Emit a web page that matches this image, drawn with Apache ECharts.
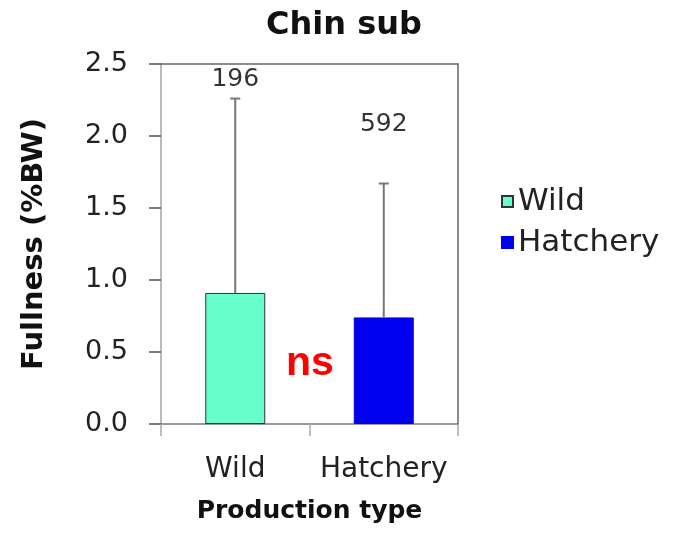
<!DOCTYPE html>
<html>
<head>
<meta charset="utf-8">
<script src="https://cdn.jsdelivr.net/npm/echarts@6/dist/echarts.min.js"></script>
<style>
  html, body { margin: 0; padding: 0; background: #fff; }
  #chart { width: 673px; height: 536px; }
</style>
</head>
<body>
<div id="chart"></div>
<script>
// Chin sub - stomach fullness by production type
const categories = ['Wild', 'Hatchery'];
const meanFullness = [0.91, 0.74];     // bar heights (%BW)
const upperError = [2.26, 1.67];       // top of error whisker
const sampleSizes = ['196', '592'];    // n labels
const sampleLabelY = [2.39, 2.08];     // where the n labels sit
const barColors = ['#66FFCC', '#0000F0'];

const FONT = 'DejaVu Sans';
const chart = echarts.init(document.getElementById('chart'));

// one series per type so the legend gets two entries
const barSeries = categories.map((name, i) => ({
  name,
  type: 'bar',
  barWidth: 60,
  barGap: '-100%',
  data: categories.map((c, j) => (j === i ? meanFullness[j] : '-')),
  itemStyle: {
    color: barColors[i],
    borderColor: i === 0 ? '#333' : barColors[i],
    borderWidth: 1
  },
  z: 2
}));

chart.setOption({
  backgroundColor: '#fff',
  animation: false,
  title: {
    text: 'Chin sub',
    left: 261,
    top: 5,
    textStyle: { fontFamily: FONT, fontSize: 32, fontWeight: 'bold', color: '#111' }
  },
  legend: {
    orient: 'vertical',
    left: 501,
    top: 186,
    padding: 0,
    icon: 'rect',
    itemWidth: 11,
    itemHeight: 11,
    itemGap: 10,
    data: categories,
    textStyle: { fontFamily: FONT, fontSize: 31, color: '#222' }
  },
  grid: { left: 161, right: 215, top: 64, bottom: 112 },
  xAxis: [
    {
      type: 'category',
      data: categories,
      axisLine: { lineStyle: { color: '#777', width: 1.5 } },
      axisTick: { show: true, alignWithLabel: false, length: 12, lineStyle: { color: '#aaa', width: 1.5 } },
      axisLabel: { interval: 0, fontFamily: FONT, fontSize: 28, color: '#222', margin: 32 },
      name: 'Production type',
      nameLocation: 'middle',
      nameGap: 75,
      nameTextStyle: { fontFamily: FONT, fontSize: 25, fontWeight: 'bold', color: '#111' }
    },
    {
      type: 'category',
      position: 'top',
      data: categories,
      axisLine: { show: true, onZero: false, lineStyle: { color: '#666', width: 1.5 } },
      axisTick: { show: false },
      axisLabel: { show: false }
    }
  ],
  yAxis: [
    {
      type: 'value',
      min: 0,
      max: 2.5,
      interval: 0.5,
      axisLine: { show: true, lineStyle: { color: '#bbb', width: 2 } },
      axisTick: { show: true, length: 12, lineStyle: { color: '#555', width: 1.5 } },
      axisLabel: {
        fontFamily: FONT, fontSize: 27, color: '#222', margin: 33,
        formatter: v => v.toFixed(1)
      },
      splitLine: { show: false },
      name: 'Fullness (%BW)',
      nameLocation: 'middle',
      nameGap: 112,
      nameTextStyle: { fontFamily: FONT, fontSize: 29, fontWeight: 'bold', color: '#111' }
    },
    {
      type: 'value',
      position: 'right',
      min: 0,
      max: 2.5,
      interval: 0.5,
      axisLine: { show: true, onZero: false, lineStyle: { color: '#666', width: 1.5 } },
      axisTick: { show: false },
      axisLabel: { show: false },
      splitLine: { show: false }
    }
  ],
  series: [
    ...barSeries,
    {
      name: 'error',
      type: 'custom',
      z: 3,
      data: categories.map((c, i) => [i, meanFullness[i], upperError[i]]),
      renderItem: (params, api) => {
        const base = api.coord([api.value(0), api.value(1)]);
        const top = api.coord([api.value(0), api.value(2)]);
        const style = { stroke: '#777', lineWidth: 2 };
        return {
          type: 'group',
          children: [
            { type: 'line', shape: { x1: top[0], y1: base[1], x2: top[0], y2: top[1] }, style },
            { type: 'line', shape: { x1: top[0] - 5, y1: top[1], x2: top[0] + 5, y2: top[1] }, style }
          ]
        };
      }
    },
    {
      name: 'n',
      type: 'scatter',
      symbolSize: 0,
      data: categories.map((c, i) => [i, sampleLabelY[i]]),
      label: {
        show: true,
        position: 'inside',
        formatter: p => sampleSizes[p.dataIndex],
        fontFamily: FONT, fontSize: 25, color: '#000'
      },
      emphasis: { disabled: true },
      z: 4
    }
  ],
  graphic: [
    {
      type: 'text',
      left: 286,
      top: 343,
      style: {
        text: 'ns',
        fontFamily: 'Liberation Sans',
        fontWeight: 'bold',
        fontSize: 41,
        fill: '#ff0000'
      }
    }
  ]
});
</script>
</body>
</html>
